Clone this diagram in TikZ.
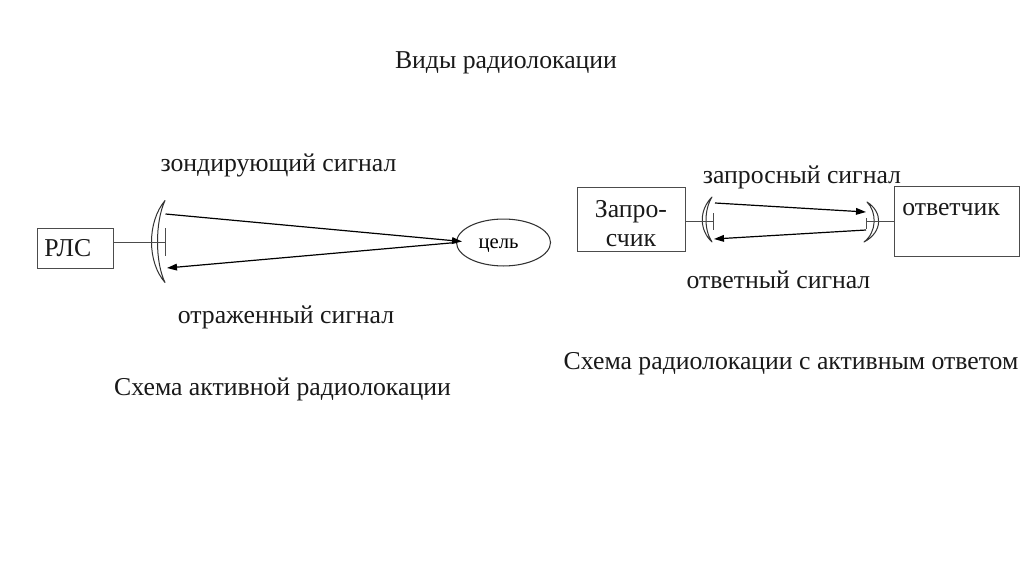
\documentclass[tikz,border=0pt]{standalone}
\usepackage{fontspec}
\setmainfont{Liberation Serif}
\usetikzlibrary{arrows.meta,shapes.geometric}
\tikzset{
  line/.style={draw=black!70,line width=0.7pt},
  boxn/.style={draw=black!70,line width=0.7pt,minimum width=0pt,inner sep=0pt},
  sig/.style={draw=black,line width=0.9pt,-{Triangle[length=7.5pt,width=5pt]},shorten >=0pt},
  lab/.style={font=\fontsize{19.3}{22}\selectfont,inner sep=0pt,text=black!90!white},
  dish/.style={draw=black!80,line width=0.75pt,line join=round}
}
\begin{document}
\begin{tikzpicture}[x=0.75pt,y=-0.75pt]
\useasboundingbox (0,0) rectangle (1024,574);
\node[lab] (title) at (506,63) {Виды радиолокации};
% left
\node[boxn,minimum width=57.2pt,minimum height=30.7pt,anchor=north west] (rls) at (37,227.5) {};
\node[lab,anchor=west] (rlst) at (44,248.5) {РЛС};
\node[lab] (zond) at (278.5,165.5) {зондирующий сигнал};
\node[lab] (otr) at (286,317) {отраженный сигнал};
\node[lab] (sch1) at (282.5,389) {Схема активной радиолокации};
\draw[dish] (165,200.5) .. controls (147,222) and (147,262) .. (165,282.5)
   .. controls (155,262) and (155,222) .. (165,200.5) -- cycle;
\coordinate (fa) at (165,228);
\coordinate (fb) at (165,256);
\coordinate (fc) at (165,242);
\draw[line] (fa) -- (fb);
\draw[line] (rls.east |- fc) -- (fc);
\node[draw=black!80,line width=0.8pt,ellipse,minimum width=70.5pt,minimum height=35.2pt,inner sep=0pt] (tgt) at (503.5,242.5) {};
\node[inner sep=0pt,font=\fontsize{15.5}{18}\selectfont] (tgtt) at (498.5,246) {цель};
\coordinate (s1) at (165.5,214);
\coordinate (s2) at (462,241.5);
\coordinate (s3) at (456,242.5);
\coordinate (s4) at (167,268);
\draw[sig] (s1) -- (s2);
\draw[sig] (s3) -- (s4);
% right
\node[boxn,minimum width=81pt,minimum height=48pt,anchor=north west] (zap) at (577,187) {};
\node[lab,align=center] (zapt) at (631,223.5) {\fontsize{19.3}{24}\selectfont Запро-\\счик};
\node[boxn,minimum width=94pt,minimum height=52.5pt,anchor=north west] (otv) at (894,186) {};
\node[lab,anchor=west] (otvt) at (902,210) {ответчик};
\node[lab] (zs) at (802,177.5) {запросный сигнал};
\node[lab] (os) at (778.5,280) {ответный сигнал};
\node[lab] (sch2) at (791,364) {Схема радиолокации с активным ответом};
\draw[dish] (712,197) .. controls (699,210) and (699,230) .. (712,242)
   .. controls (704,230) and (704,210) .. (712,197) -- cycle;
\draw[dish] (867,202) .. controls (883,212) and (883,232) .. (864,242)
   .. controls (877,232) and (877,212) .. (867,202) -- cycle;
\coordinate (ga) at (713,213);
\coordinate (gb) at (713,230);
\coordinate (gc) at (713,221);
\coordinate (ha) at (866,218);
\coordinate (hb) at (866,229);
\coordinate (hc) at (866,221);
\draw[line] (ga) -- (gb);
\draw[line] (ha) -- (hb);
\draw[line] (zap.east |- gc) -- (gc);
\draw[line] (hc) -- (otv.west |- hc);
\coordinate (t1) at (715,203);
\coordinate (t2) at (866,212);
\coordinate (t3) at (866,230);
\coordinate (t4) at (714,239);
\draw[sig] (t1) -- (t2);
\draw[sig] (t3) -- (t4);
\end{tikzpicture}
\end{document}
